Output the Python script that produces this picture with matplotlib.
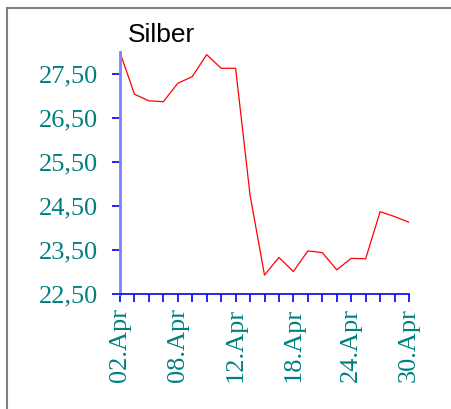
import matplotlib as mpl
mpl.use('Agg')
import matplotlib.pyplot as plt
from matplotlib.patches import Rectangle

# silver price, trading days in April
prices = [27.99, 27.04, 26.89, 26.87, 27.29, 27.44, 27.94, 27.63, 27.63, 24.75,
          22.93, 23.33, 23.01, 23.48, 23.44, 23.05, 23.31, 23.30, 24.37, 24.26, 24.13]
date_labels = ['02.Apr', '08.Apr', '12.Apr', '18.Apr', '24.Apr', '30.Apr']
date_pos = [0, 4, 8, 12, 16, 20]
y_ticks = [22.5, 23.5, 24.5, 25.5, 26.5, 27.5]
y_labels = ['22,50', '23,50', '24,50', '25,50', '26,50', '27,50']

teal = '#008080'
serif = ['Liberation Serif', 'DejaVu Serif']

fig = plt.figure(figsize=(4.52, 4.09), dpi=100)
ax = fig.add_axes([120 / 452, 1 - 294 / 409, 289 / 452, 242 / 409])

# grey frame round the whole chart
fig.patches.append(Rectangle((7 / 452, -0.1), 1.2, 1 - 8 / 409 + 0.1,
                             transform=fig.transFigure, fill=False,
                             edgecolor='#808080', linewidth=1.5))

x = list(range(len(prices)))
ax.plot(x, prices, color='red', linewidth=0.9)

ax.set_xlim(0, len(prices) - 1)
ax.set_ylim(22.5, 28.0)

ax.spines['top'].set_visible(False)
ax.spines['right'].set_visible(False)
ax.spines['left'].set_color('#8080ff')
ax.spines['left'].set_linewidth(2)
ax.spines['bottom'].set_color('blue')
ax.spines['bottom'].set_linewidth(1.2)

ax.set_xticks(x)
ax.set_xticklabels([date_labels[date_pos.index(i)] if i in date_pos else '' for i in x],
                   rotation=90, fontfamily=serif, fontsize=19, color=teal)
ax.set_yticks(y_ticks)
ax.set_yticklabels(y_labels, fontfamily=serif, fontsize=19, color=teal)

ax.tick_params(axis='x', direction='out', length=6, width=1.2, color='blue', pad=4)
ax.tick_params(axis='y', direction='out', length=6, width=1.2, color='blue', pad=10)

fig.text(128 / 452, 1 - 42 / 409, 'Silber', fontfamily=['Liberation Sans', 'DejaVu Sans'],
         fontsize=19, color='black')

fig.savefig('out.png', dpi=100)
